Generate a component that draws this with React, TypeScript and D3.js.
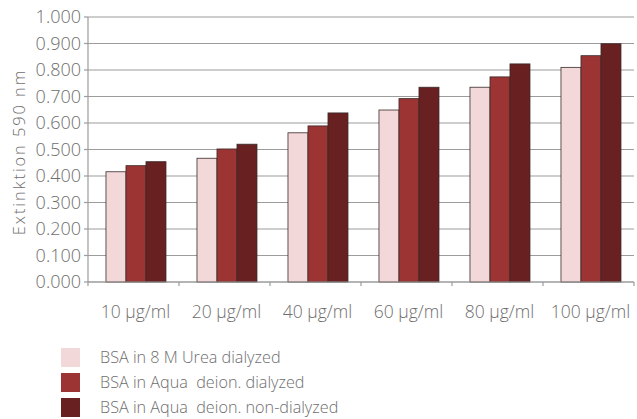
import React from "react";
import * as d3 from "d3";

const categories = ["10 µg/ml", "20 µg/ml", "40 µg/ml", "60 µg/ml", "80 µg/ml", "100 µg/ml"];
const seriesNames = [
  "BSA in 8 M Urea dialyzed",
  "BSA in Aqua  deion. dialyzed",
  "BSA in Aqua  deion. non-dialyzed",
];
const ureaDialyzed = [0.416, 0.467, 0.563, 0.649, 0.735, 0.81];
const aquaDialyzed = [0.439, 0.502, 0.589, 0.692, 0.774, 0.854];
const aquaNonDialyzed = [0.454, 0.52, 0.638, 0.735, 0.823, 0.899];
const yTicks = [0, 0.1, 0.2, 0.3, 0.4, 0.5, 0.6, 0.7, 0.8, 0.9, 1.0];
const colors = ["#f2d8d8", "#9c3434", "#682020"];

const W = 637;
const H = 419;
const left = 88;
const right = 634;
const top = 17;
const bottom = 282;
const textColor = "#6e6e6e";
const font = "'Open Sans', sans-serif";

export default function App() {
  const series = [ureaDialyzed, aquaDialyzed, aquaNonDialyzed];
  const x = d3.scaleBand<string>().domain(categories).range([left, right]).padding(0);
  const xs = d3
    .scaleBand<number>()
    .domain([0, 1, 2])
    .range([0, x.bandwidth()])
    .paddingInner(0)
    .paddingOuter(0.775)
    .align(0.58);
  const y = d3.scaleLinear().domain([0, 1]).range([bottom, top]);
  const fmt = d3.format(".3f");
  const boundaries = [...categories.map((c) => x(c) as number), right];

  return (
    <svg
      width={W}
      height={H}
      style={{ position: "absolute", left: 0, top: 0, background: "#fff" }}
      fontFamily={font}
    >
      {/* gridlines */}
      {yTicks.map((t) => (
        <line key={"g" + t} x1={left} x2={right} y1={y(t)} y2={y(t)} stroke="#9c9c9c" strokeWidth={1.2} />
      ))}
      {/* y axis ticks & labels */}
      <line x1={left} x2={left} y1={top} y2={bottom} stroke="#9c9c9c" strokeWidth={1.2} />
      {yTicks.map((t) => (
        <g key={"t" + t}>
          <line x1={left - 4} x2={left} y1={y(t)} y2={y(t)} stroke="#9c9c9c" strokeWidth={1.2} />
          <text
            x={81}
            y={y(t)}
            dy="0.36em"
            textAnchor="end"
            fontSize={18}
            fontWeight={300}
            fill={textColor}
          >
            {fmt(t)}
          </text>
        </g>
      ))}
      {/* bars */}
      {categories.map((c, i) => (
        <g key={c} transform={`translate(${x(c)},0)`}>
          {series.map((s, j) => (
            <rect
              key={j}
              x={xs(j) as number}
              y={y(s[i])}
              width={xs.bandwidth()}
              height={bottom - y(s[i])}
              fill={colors[j]}
              stroke="#3a2a2a"
              strokeWidth={0.8}
            />
          ))}
        </g>
      ))}
      {/* x axis */}
      <line x1={left} x2={right} y1={bottom} y2={bottom} stroke="#9c9c9c" strokeWidth={1.2} />
      {boundaries.map((b, i) => (
        <line key={"xb" + i} x1={b} x2={b} y1={bottom} y2={bottom + 4} stroke="#9c9c9c" strokeWidth={1.2} />
      ))}
      {categories.map((c) => (
        <text
          key={"xl" + c}
          x={(x(c) as number) + x.bandwidth() / 2 + 2}
          y={318}
          textAnchor="middle"
          fontSize={17.5}
          fontWeight={300}
          fill={textColor}
        >
          {c}
        </text>
      ))}
      {/* y title */}
      <text
        transform={`translate(25,152) rotate(-90)`}
        textAnchor="middle"
        fontSize={16.5}
        fontWeight={300}
        letterSpacing={1.9}
        fill={textColor}
      >
        Extinktion 590 nm
      </text>
      {/* legend */}
      {seriesNames.map((n, j) => (
        <g key={n} transform={`translate(61,${348 + j * 25})`}>
          <rect width={19} height={19} fill={colors[j]} />
          <text x={39} y={9.5} dy="0.36em" fontSize={16.2} fontWeight={300} fill={textColor} style={{ whiteSpace: "pre" }}>
            {n}
          </text>
        </g>
      ))}
    </svg>
  );
}
